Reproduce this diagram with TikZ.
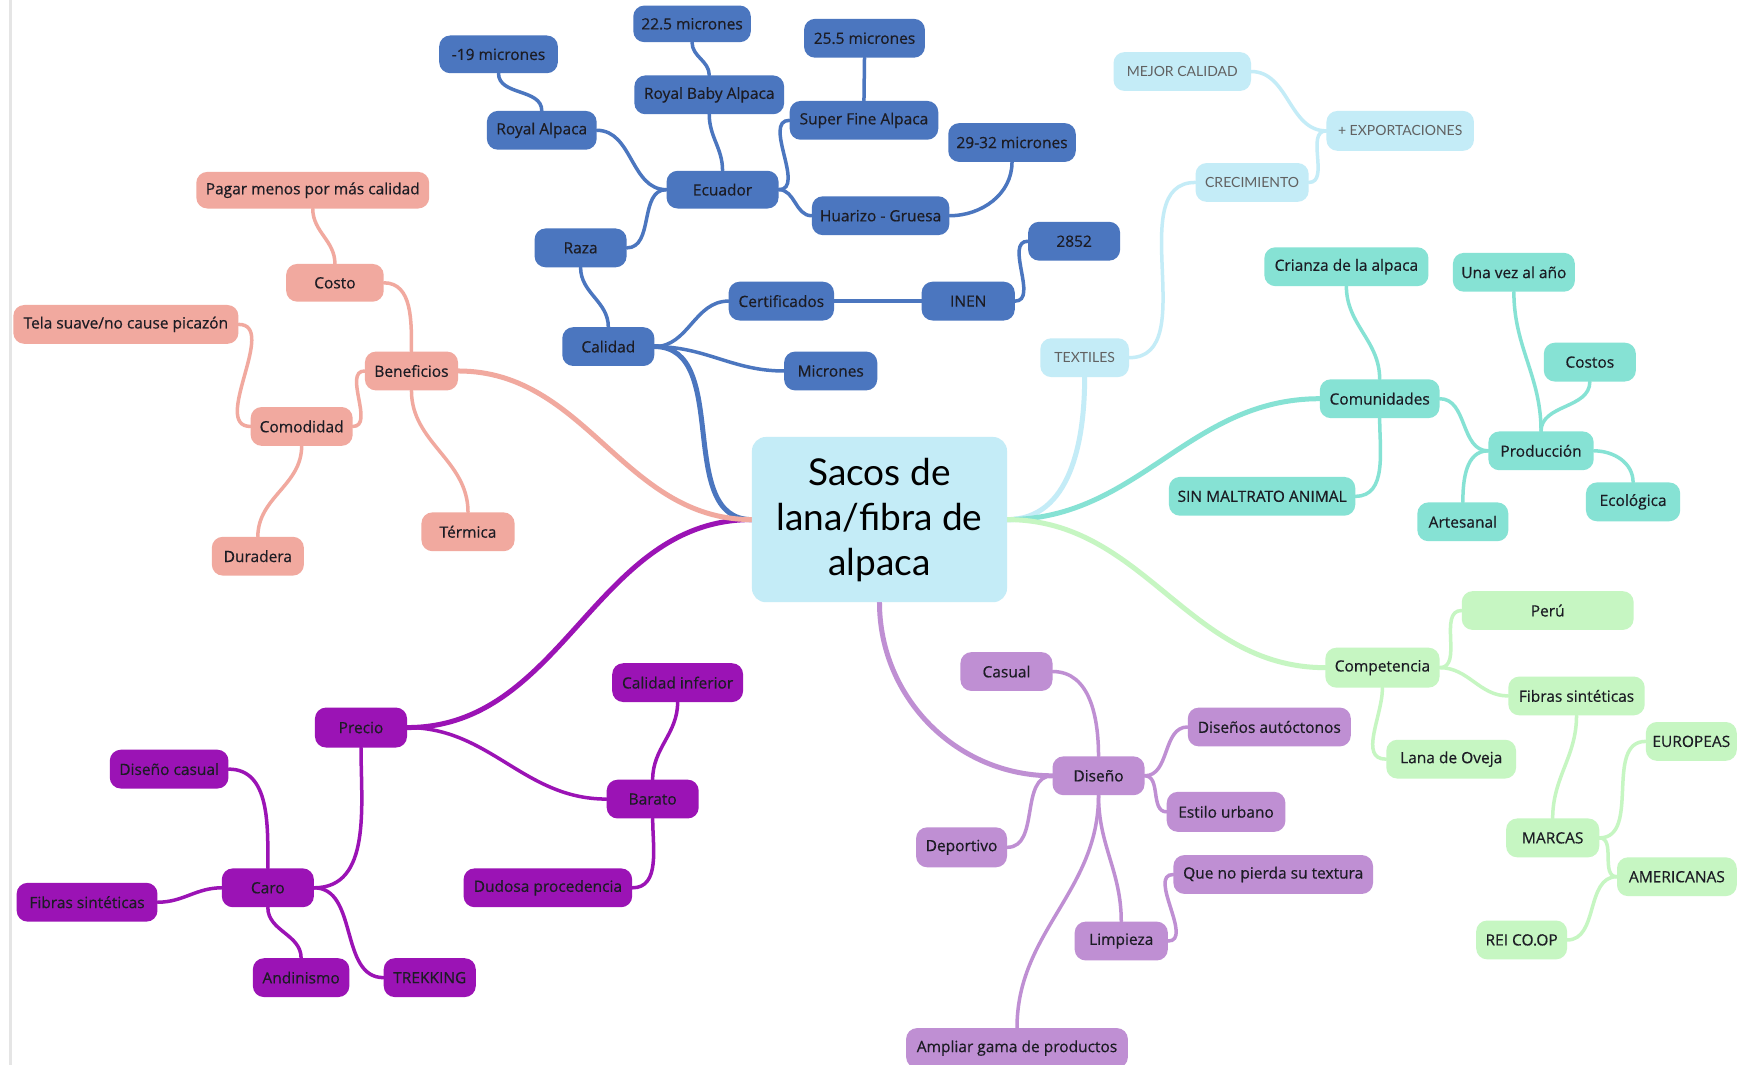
\documentclass[tikz,border=0pt]{standalone}
\usepackage{fontspec}
\setmainfont{Open Sans}
\newfontfamily\nodefont{Open Sans}[FakeBold=0.5]
\newfontfamily\hand{Lato}
\usetikzlibrary{fit}
\pgfdeclarelayer{bg}
\pgfdeclarelayer{back}
\pgfsetlayers{back,bg,main}
\definecolor{cblue}{HTML}{4B76BF}
\definecolor{ccyan}{HTML}{C4ECF7}
\definecolor{cteal}{HTML}{86E2D4}
\definecolor{cgreen}{HTML}{C6F6C2}
\definecolor{clav}{HTML}{BF8FD3}
\definecolor{cpur}{HTML}{9B13B5}
\definecolor{csal}{HTML}{F1A99F}
\definecolor{ctxt}{HTML}{1C1C24}
\tikzset{
  box/.style={rounded corners=11pt, inner sep=0pt},
  bl/.style={box, fill=cblue},
  cy/.style={box, fill=ccyan},
  te/.style={box, fill=cteal},
  gr/.style={box, fill=cgreen},
  lv/.style={box, fill=clav},
  pu/.style={box, fill=cpur},
  sa/.style={box, fill=csal},
  txt/.style={font=\nodefont\fontsize{15.5}{18}\selectfont, text=ctxt, inner sep=0pt},
  ctx/.style={font=\hand\fontsize{14}{17}\selectfont, text=black!62, inner sep=0pt},
  ln/.style={line width=3.5pt, line cap=round},
  lk/.style={line width=5pt, line cap=round},
}
\newcommand\bx[7]{\node[#6, fit={(#2,#3) (#4,#5)}] (#1) {};
  \node[txt] (#1-t) at (#1.center) {#7};}
\newcommand\bxc[7]{\node[#6, fit={(#2,#3) (#4,#5)}] (#1) {};
  \node[ctx] (#1-t) at (#1.center) {#7};}
\begin{document}
\begin{tikzpicture}[x=1.109pt, y=-1.109pt]
\useasboundingbox (0,0) rectangle (1568,960);
\begin{pgfonlayer}{back}
\fill[white] (0,0) rectangle (1568,960);
\fill[black!10] (8,0) rectangle (11,960);
\end{pgfonlayer}

% central
\node[box, rounded corners=14pt, fill=ccyan, fit={(678,394) (908,543)}] (ctr) {};
\node[align=center, font=\hand\fontsize{37}{45}\selectfont, text=black, inner sep=0pt] (ctr-t) at (ctr.center) {Sacos de\\lana/fibra de\\alpaca};

% blue
\bx{m225}{571}{5}{677}{38}{bl}{22.5 micrones}
\bx{m19}{396}{32}{503}{66}{bl}{-19 micrones}
\bx{m255}{725}{17}{834}{52}{bl}{25.5 micrones}
\bx{rba}{572}{68}{707}{103}{bl}{Royal Baby Alpaca}
\bx{ra}{439}{100}{538}{135}{bl}{Royal Alpaca}
\bx{sfa}{712}{91}{846}{126}{bl}{Super Fine Alpaca}
\bx{m29}{855}{111}{970}{146}{bl}{29-32 micrones}
\bx{ecu}{601}{154}{702}{188}{bl}{Ecuador}
\bx{hua}{732}{177}{856}{212}{bl}{Huarizo - Gruesa}
\bx{raza}{482}{206}{565}{241}{bl}{Raza}
\bx{n2852}{927}{200}{1010}{235}{bl}{2852}
\bx{cert}{657}{254}{752}{289}{bl}{Certificados}
\bx{inen}{831}{254}{915}{289}{bl}{INEN}
\bx{cal}{507}{295}{590}{330}{bl}{Calidad}
\bx{mic}{707}{317}{791}{352}{bl}{Micrones}

% cyan
\bxc{mejor}{1004}{47}{1128}{82}{cy}{MEJOR CALIDAD}
\bxc{expo}{1196}{100}{1329}{136}{cy}{+ EXPORTACIONES}
\bxc{crec}{1078}{147}{1180}{182}{cy}{CRECIMIENTO}
\bxc{text}{938}{305}{1018}{340}{cy}{TEXTILES}

% teal
\bx{crianza}{1140}{223}{1288}{258}{te}{Crianza de la alpaca}
\bx{unavez}{1310}{228}{1420}{263}{te}{Una vez al año}
\bx{costos}{1392}{309}{1475}{344}{te}{Costos}
\bx{comu}{1190}{342}{1298}{377}{te}{Comunidades}
\bx{prod}{1342}{389}{1437}{424}{te}{Producción}
\bx{sinm}{1054}{430}{1222}{465}{te}{SIN MALTRATO ANIMAL}
\bx{arte}{1278}{453}{1360}{488}{te}{Artesanal}
\bx{eco}{1430}{435}{1515}{470}{te}{Ecológica}

% green
\bx{peru}{1318}{533}{1473}{568}{gr}{Perú}
\bx{comp}{1195}{584}{1298}{620}{gr}{Competencia}
\bx{fibg}{1360}{610}{1483}{645}{gr}{Fibras sintéticas}
\bx{lana}{1250}{667}{1367}{702}{gr}{Lana de Oveja}
\bx{euro}{1484}{651}{1566}{686}{gr}{EUROPEAS}
\bx{marc}{1358}{738}{1442}{773}{gr}{MARCAS}
\bx{amer}{1458}{773}{1566}{808}{gr}{AMERICANAS}
\bx{rei}{1331}{830}{1413}{865}{gr}{REI CO.OP}

% lavender
\bx{casual}{866}{588}{949}{623}{lv}{Casual}
\bx{auto}{1071}{638}{1218}{673}{lv}{Diseños autóctonos}
\bx{dis}{949}{682}{1032}{717}{lv}{Diseño}
\bx{urb}{1052}{714}{1159}{750}{lv}{Estilo urbano}
\bx{dep}{826}{746}{908}{782}{lv}{Deportivo}
\bx{tex}{1058}{771}{1238}{806}{lv}{Que no pierda su textura}
\bx{limp}{969}{831}{1053}{866}{lv}{Limpieza}
\bx{ampl}{817}{927}{1017}{963}{lv}{Ampliar gama de productos}

% purple
\bx{calinf}{552}{598}{670}{633}{pu}{Calidad inferior}
\bx{precio}{284}{638}{367}{674}{pu}{Precio}
\bx{discas}{99}{676}{206}{711}{pu}{Diseño casual}
\bx{barato}{547}{703}{630}{738}{pu}{Barato}
\bx{caro}{200}{783}{283}{818}{pu}{Caro}
\bx{dudosa}{418}{783}{570}{818}{pu}{Dudosa procedencia}
\bx{fibp}{15}{796}{142}{831}{pu}{Fibras sintéticas}
\bx{andi}{228}{864}{315}{899}{pu}{Andinismo}
\bx{trek}{346}{864}{429}{899}{pu}{TREKKING}

% salmon
\bx{pagar}{177}{155}{387}{188}{sa}{Pagar menos por más calidad}
\bx{costo}{258}{238}{346}{272}{sa}{Costo}
\bx{tela}{12}{275}{215}{310}{sa}{Tela suave/no cause picazón}
\bx{benef}{329}{317}{413}{352}{sa}{Beneficios}
\bx{comod}{226}{367}{318}{402}{sa}{Comodidad}
\bx{term}{380}{462}{464}{497}{sa}{Térmica}
\bx{dura}{191}{484}{274}{519}{sa}{Duradera}

\begin{pgfonlayer}{bg}
% blue
\draw[lk, cblue] (ctr.west) to[out=180,in=0] (cal.east);
\draw[ln, cblue] (cal.east) to[out=0,in=180] (cert.west);
\draw[ln, cblue] (cal.east) to[out=0,in=180] (mic.west);
\draw[ln, cblue] (cert.east) to[out=0,in=180] (inen.west);
\draw[ln, cblue] (inen.east) to[out=0,in=180] (n2852.west);
\draw[ln, cblue] (cal.north) to[out=90,in=-90] (raza.south);
\draw[ln, cblue] (raza.east) to[out=0,in=180] (ecu.west);
\draw[ln, cblue] (ecu.west) to[out=180,in=0] (ra.east);
\draw[ln, cblue] (ra.north) to[out=90,in=-90] (m19.south);
\draw[ln, cblue] (ecu.north) to[out=90,in=-90] (rba.south);
\draw[ln, cblue] (rba.north) to[out=90,in=-90] (m225.south);
\draw[ln, cblue] (ecu.east) to[out=0,in=180] (sfa.west);
\draw[ln, cblue] (ecu.east) to[out=0,in=180] (hua.west);
\draw[ln, cblue] (sfa.north) -- (m255.south);
\draw[ln, cblue] (hua.east) to[out=0,in=-90] (m29.south);
% cyan
\draw[lk, ccyan] (ctr.east) to[out=0,in=-90] (text.south);
\draw[ln, ccyan] (text.east) to[out=0,in=180] (crec.west);
\draw[ln, ccyan] (crec.east) to[out=0,in=180] (expo.west);
\draw[ln, ccyan] (mejor.east) to[out=0,in=180] (expo.west);
% teal
\draw[lk, cteal] (ctr.east) to[out=0,in=180] (comu.west);
\draw[ln, cteal] (comu.north) to[out=90,in=-90] (crianza.south);
\draw[ln, cteal] (comu.south) to[out=-90,in=0] (sinm.east);
\draw[ln, cteal] (comu.east) to[out=0,in=180] (prod.west);
\draw[ln, cteal] (prod.west) to[out=180,in=90] (arte.north);
\draw[ln, cteal] (prod.north) to[out=90,in=-90] (unavez.south);
\draw[ln, cteal] (prod.north) to[out=90,in=-90] (costos.south);
\draw[ln, cteal] (prod.east) to[out=0,in=90] (eco.north);
% green
\draw[lk, cgreen] (ctr.east) to[out=0,in=180] (comp.west);
\draw[ln, cgreen] (comp.east) to[out=0,in=180] (peru.west);
\draw[ln, cgreen] (comp.east) to[out=0,in=180] (fibg.west);
\draw[ln, cgreen] (comp.south) to[out=-90,in=180] (lana.west);
\draw[ln, cgreen] (fibg.south) to[out=-90,in=90] (marc.north);
\draw[ln, cgreen] (marc.east) to[out=0,in=180] (euro.west);
\draw[ln, cgreen] (marc.east) to[out=0,in=180] (amer.west);
\draw[ln, cgreen] (amer.west) to[out=180,in=0] (rei.east);
% lavender
\draw[lk, clav] (ctr.south) to[out=-90,in=180] (dis.west);
\draw[ln, clav] (dis.north) to[out=90,in=0] (casual.east);
\draw[ln, clav] (dis.east) to[out=0,in=180] (auto.west);
\draw[ln, clav] (dis.east) to[out=0,in=180] (urb.west);
\draw[ln, clav] (dis.west) to[out=180,in=0] (dep.east);
\draw[ln, clav] (dis.south) to[out=-90,in=90] (limp.north);
\draw[ln, clav] (dis.south) to[out=-90,in=90] (ampl.north);
\draw[ln, clav] (limp.east) to[out=0,in=180] (tex.west);
% purple
\draw[lk, cpur] (ctr.west) to[out=180,in=0] (precio.east);
\draw[ln, cpur] (precio.east) to[out=0,in=180] (barato.west);
\draw[ln, cpur] (barato.north) to[out=90,in=-90] (calinf.south);
\draw[ln, cpur] (barato.south) to[out=-90,in=0] (dudosa.east);
\draw[ln, cpur] (precio.south) to[out=-90,in=0] (caro.east);
\draw[ln, cpur] (caro.north) to[out=90,in=0] (discas.east);
\draw[ln, cpur] (caro.west) to[out=180,in=0] (fibp.east);
\draw[ln, cpur] (caro.south) to[out=-90,in=90] (andi.north);
\draw[ln, cpur] (caro.east) to[out=0,in=180] (trek.west);
% salmon
\draw[lk, csal] (ctr.west) to[out=180,in=0] (benef.east);
\draw[ln, csal] (benef.north) to[out=90,in=0] (costo.east);
\draw[ln, csal] (costo.north) to[out=90,in=-90] (pagar.south);
\draw[ln, csal] (benef.west) to[out=180,in=0] (comod.east);
\draw[ln, csal] (comod.west) to[out=180,in=0] (tela.east);
\draw[ln, csal] (comod.south) to[out=-90,in=90] (dura.north);
\draw[ln, csal] (benef.south) to[out=-90,in=90] (term.north);
\end{pgfonlayer}
\end{tikzpicture}
\end{document}
